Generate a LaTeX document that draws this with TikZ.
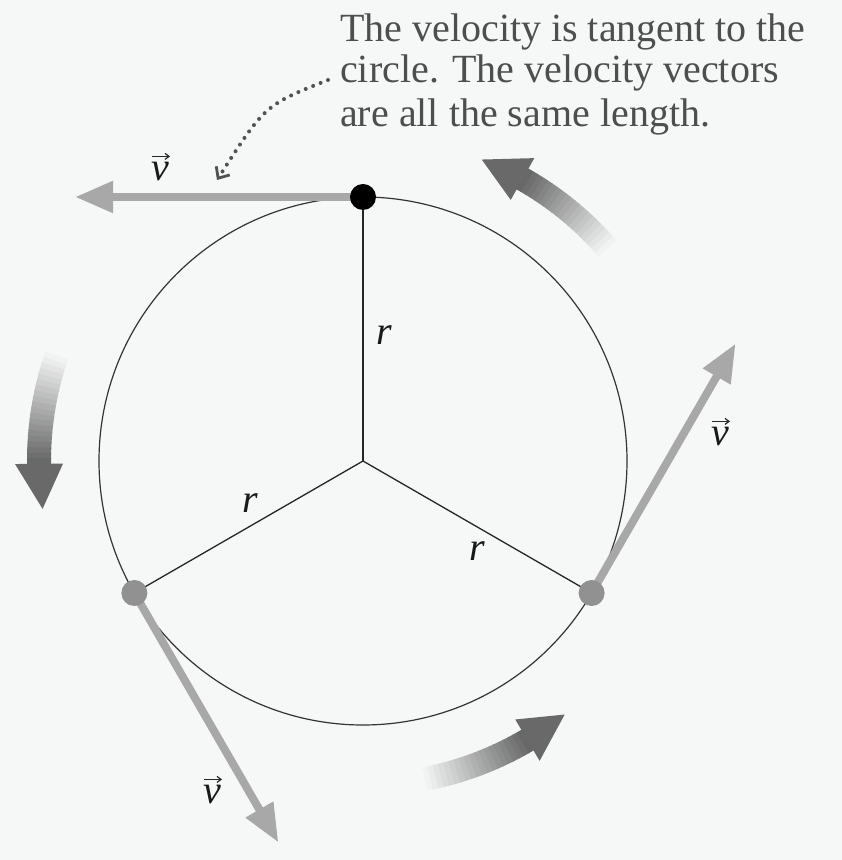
\documentclass[tikz,border=0pt]{standalone}
\usepackage{fontspec}
\setmainfont{Liberation Serif}
\usetikzlibrary{arrows.meta}
\definecolor{bgc}{RGB}{246,247,247}
\definecolor{vgray}{RGB}{168,168,168}
\definecolor{txtc}{RGB}{78,78,78}
\definecolor{dotgray}{RGB}{145,145,145}
\definecolor{headc}{RGB}{105,105,105}
\begin{document}
\begin{tikzpicture}[x=1pt,y=1pt,
  vel/.style={draw=vgray, line width=8pt, -{Triangle[length=38pt,width=30pt]}},
  rad/.style={draw=black!85, line width=1.3pt},
  lbl/.style={font=\fontsize{40}{40}\selectfont, text=black!90, inner sep=0pt},
  vecarrow/.style={draw=black!85, line width=1.3pt, -{Straight Barb[length=4pt,width=6pt,line width=1.2pt]}},
  captxt/.style={font=\fontsize{40}{43}\selectfont, text=txtc, inner sep=0pt, anchor=base west},
  pdot/.style={circle, inner sep=0pt, minimum size=26pt},
  hint/.style={draw=black!68, line width=4pt, line cap=round, dash pattern=on 0pt off 8pt,
     -{Straight Barb[length=9pt,width=16pt,line width=2.8pt]}},
]
\fill[bgc] (0,0) rectangle (842,860);
\useasboundingbox (0,0) rectangle (842,860);

\coordinate (C) at (363,399);

% motion arrows (fading)
\foreach \a in {41,161,281}{
  \begin{scope}[shift={(363,399)}]
    \foreach \i in {0,...,19}{
      \pgfmathsetmacro{\s}{\a+19.5*\i/20}
      \pgfmathsetmacro{\e}{\a+19.5*(\i+1)/20+0.15}
      \pgfmathsetmacro{\p}{2+56*\i/19}
      \fill[black!\p!bgc] (\s:312) arc[start angle=\s,end angle=\e,radius=312]
        -- (\e:336) arc[start angle=\e,end angle=\s,radius=336] -- cycle;
    }
    \fill[headc] (\a+19.5:348) -- (\a+27.5:324) -- (\a+19.5:300) -- cycle;
  \end{scope}
}

% circle and radii
\node[circle, draw=black!80, line width=1.2pt, minimum size=528pt, inner sep=0pt] (circ) at (C) {};
\coordinate (T) at ([shift={(90:264)}]C);
\coordinate (L) at ([shift={(210:264)}]C);
\coordinate (R) at ([shift={(330:264)}]C);
\draw[rad] (C) -- (T);
\draw[rad] (C) -- (L);
\draw[rad] (C) -- (R);

% velocity vectors
\coordinate (vT) at ([shift={(180:288)}]T);
\coordinate (vL) at ([shift={(300:288)}]L);
\coordinate (vR) at ([shift={(60:288)}]R);
\draw[vel] (T) -- (vT);
\draw[vel] (L) -- (vL);
\draw[vel] (R) -- (vR);

% particle dots
\node[pdot, fill=black] (dT) at (T) {};
\node[pdot, fill=dotgray] (dL) at (L) {};
\node[pdot, fill=dotgray] (dR) at (R) {};

% labels
\foreach \n/\x/\y in {vlT/160/688, vlR/720/423, vlL/212/65}{
  \node[lbl] (\n) at (\x,\y) {\textit{v}};
  \draw[vecarrow] ([shift={(-8,6)}]\n.north) -- ([shift={(10,6)}]\n.north);
}
\node[lbl] (rT) at (384,525) {\textit{r}};
\node[lbl] (rL) at (250,357) {\textit{r}};
\node[lbl] (rR) at (477,309) {\textit{r}};

% caption
\node[captxt] (t1) at (340,818) {The velocity is tangent to the};
\node[captxt] (t2) at (340,777) {circle. The velocity vectors};
\node[captxt] (t3) at (340,733) {are all the same length.};

\coordinate (hs) at ([shift={(-12,3)}]t2.base west);
\coordinate (he) at (217,680);
\draw[hint] (hs) .. controls (265,755) .. (he);
\end{tikzpicture}
\end{document}
